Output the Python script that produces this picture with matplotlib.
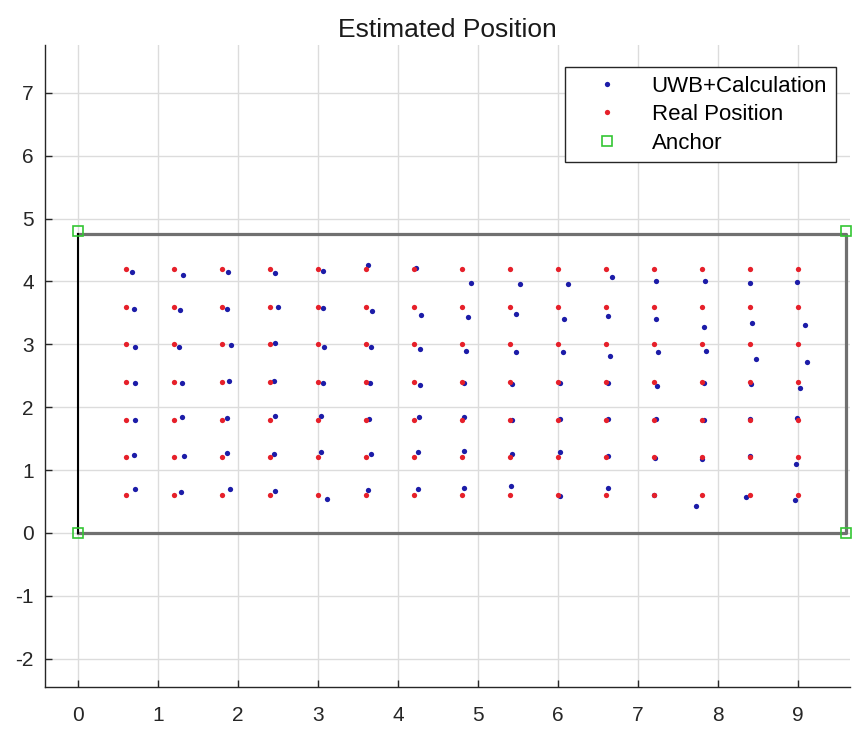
import matplotlib
matplotlib.use('Agg')
import matplotlib.pyplot as plt
import numpy as np

plt.rcParams['font.family'] = ['Liberation Sans', 'DejaVu Sans']
plt.rcParams['axes.unicode_minus'] = False

# reference grid of the measured tag positions (m)
real_x = [0.6, 1.2, 1.8, 2.4, 3.0, 3.6, 4.2, 4.8, 5.4, 6.0, 6.6, 7.2, 7.8, 8.4, 9.0]
real_y = [4.2, 3.6, 3.0, 2.4, 1.8, 1.2, 0.6]

# UWB estimates, one row per real_y, one column per real_x
uwb_x = [
    [0.68, 1.32, 1.88, 2.47, 3.06, 3.63, 4.23, 4.91, 5.53, 6.13, 6.68, 7.23, 7.84, 8.40, 8.99],
    [0.70, 1.28, 1.87, 2.50, 3.07, 3.68, 4.29, 4.88, 5.47, 6.08, 6.62, 7.22, 7.83, 8.43, 9.09],
    [0.71, 1.27, 1.91, 2.47, 3.08, 3.66, 4.28, 4.85, 5.47, 6.06, 6.65, 7.25, 7.85, 8.47, 9.11],
    [0.72, 1.30, 1.89, 2.45, 3.06, 3.65, 4.27, 4.82, 5.43, 6.02, 6.63, 7.24, 7.82, 8.41, 9.03],
    [0.72, 1.30, 1.86, 2.47, 3.04, 3.64, 4.26, 4.83, 5.42, 6.03, 6.63, 7.22, 7.83, 8.40, 8.99],
    [0.70, 1.33, 1.87, 2.45, 3.04, 3.66, 4.25, 4.83, 5.43, 6.03, 6.62, 7.21, 7.80, 8.40, 8.98],
    [0.71, 1.29, 1.90, 2.47, 3.11, 3.63, 4.25, 4.82, 5.41, 6.02, 6.62, 7.20, 7.73, 8.35, 8.96],
]
uwb_y = [
    [4.15, 4.10, 4.15, 4.13, 4.17, 4.26, 4.22, 3.98, 3.96, 3.96, 4.07, 4.00, 4.01, 3.98, 3.99],
    [3.56, 3.55, 3.56, 3.60, 3.57, 3.53, 3.46, 3.44, 3.49, 3.40, 3.45, 3.40, 3.28, 3.34, 3.31],
    [2.96, 2.96, 2.99, 3.02, 2.96, 2.96, 2.92, 2.89, 2.88, 2.88, 2.81, 2.87, 2.89, 2.77, 2.72],
    [2.38, 2.39, 2.41, 2.41, 2.38, 2.39, 2.36, 2.39, 2.37, 2.39, 2.38, 2.34, 2.39, 2.37, 2.31],
    [1.80, 1.85, 1.83, 1.86, 1.86, 1.81, 1.85, 1.85, 1.80, 1.81, 1.81, 1.81, 1.79, 1.81, 1.83],
    [1.24, 1.22, 1.27, 1.25, 1.28, 1.25, 1.29, 1.30, 1.25, 1.29, 1.23, 1.19, 1.17, 1.22, 1.09],
    [0.70, 0.65, 0.70, 0.67, 0.54, 0.68, 0.70, 0.72, 0.74, 0.59, 0.72, 0.60, 0.43, 0.57, 0.52],
]

anchor_x = [0.0, 0.0, 9.6, 9.6]
anchor_y = [0.0, 4.8, 0.0, 4.8]

room_w = 9.6
room_h = 4.75

fig = plt.figure(figsize=(8.53, 7.31), dpi=100)
ax = fig.add_axes([0.0528, 0.0602, 0.9437, 0.8782])

# room outline
ax.plot([0, room_w, room_w, 0], [0, 0, room_h, room_h], color='#707070', linewidth=2.3, zorder=2)
ax.plot([0, 0], [0, room_h], color='black', linewidth=1.5, zorder=2)

rx, ry = np.meshgrid(real_x, real_y)
ax.plot(np.ravel(uwb_x), np.ravel(uwb_y), linestyle='None', marker='o', markersize=3.8,
        markeredgewidth=0, color='#1c1ca8', label='UWB+Calculation', zorder=3)
ax.plot(rx.ravel(), ry.ravel(), linestyle='None', marker='o', markersize=3.8,
        markeredgewidth=0, color='#e6202a', label='Real Position', zorder=3)
ax.plot(anchor_x, anchor_y, linestyle='None', marker='s', markersize=7.5,
        markerfacecolor='none', markeredgecolor='#33c633', markeredgewidth=1.2,
        label='Anchor', zorder=4, clip_on=False)

ax.set_xlim(-0.41, 9.65)
ax.set_ylim(-2.45, 7.76)
ax.set_xticks(range(0, 10))
ax.set_yticks(range(-2, 8))

ax.grid(True, color='#dcdcdc', linewidth=1.0)
ax.set_axisbelow(True)
for side in ['top', 'right']:
    ax.spines[side].set_visible(False)
for side in ['left', 'bottom']:
    ax.spines[side].set_color('#262626')
    ax.spines[side].set_linewidth(1.0)
ax.tick_params(axis='both', direction='in', length=5, width=1.0, colors='#262626',
               labelsize=15, labelcolor='#262626')
ax.tick_params(axis='x', pad=14)
ax.tick_params(axis='y', pad=8)

ax.set_title('Estimated Position', fontsize=19, color='#1a1a1a', pad=6)

leg = ax.legend(loc='upper right', bbox_to_anchor=(0.9826, 0.9657), borderaxespad=0,
                fontsize=16, fancybox=False, framealpha=1, edgecolor='#262626',
                handlelength=3.0, handletextpad=0.5, labelspacing=0.33,
                borderpad=0.4)
leg.get_frame().set_linewidth(1.0)

fig.savefig('out.png', dpi=100)
